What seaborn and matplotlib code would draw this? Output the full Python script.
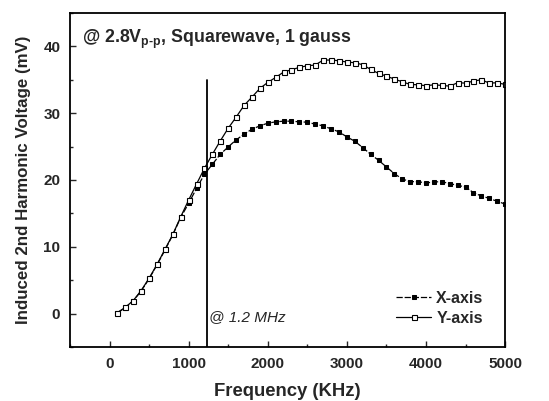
import numpy as np
import pandas as pd
import seaborn as sns
import matplotlib
matplotlib.use('Agg')
import matplotlib.pyplot as plt
from matplotlib.ticker import MultipleLocator

# frequency points (kHz), 100 kHz steps
freq = [100, 200, 300, 400, 500, 600, 700, 800, 900, 1000,
        1100, 1200, 1300, 1400, 1500, 1600, 1700, 1800, 1900, 2000,
        2100, 2200, 2300, 2400, 2500, 2600, 2700, 2800, 2900, 3000,
        3100, 3200, 3300, 3400, 3500, 3600, 3700, 3800, 3900, 4000,
        4100, 4200, 4300, 4400, 4500, 4600, 4700, 4800, 4900, 5000]

x_axis = [0.1, 0.9, 1.9, 3.4, 5.2, 7.3, 9.5, 11.8, 14.4, 16.5,
          18.75, 20.85, 22.35, 23.85, 24.95, 26.0, 26.85, 27.6, 28.1, 28.5,
          28.7, 28.8, 28.8, 28.7, 28.65, 28.35, 28.1, 27.65, 27.2, 26.45,
          25.8, 24.85, 23.85, 22.95, 21.95, 20.95, 20.15, 19.75, 19.75, 19.55,
          19.7, 19.75, 19.45, 19.2, 18.95, 18.1, 17.6, 17.25, 16.8, 16.4]

y_axis = [0.15, 0.95, 1.95, 3.45, 5.3, 7.35, 9.6, 11.85, 14.5, 17.0,
          19.4, 21.75, 23.85, 25.85, 27.75, 29.4, 31.15, 32.4, 33.7, 34.6,
          35.35, 36.15, 36.5, 36.85, 37.1, 37.2, 37.95, 37.95, 37.85, 37.65,
          37.55, 37.25, 36.55, 35.95, 35.55, 35.1, 34.7, 34.3, 34.25, 34.1,
          34.25, 34.15, 34.05, 34.55, 34.5, 34.8, 35.0, 34.5, 34.55, 34.3]

marker_freq = 1230   # vertical marker line
marker_top = 35

df = pd.DataFrame({'freq': freq, 'X-axis': x_axis, 'Y-axis': y_axis})

sns.set_style('ticks')
plt.rcParams['font.family'] = ['Liberation Sans', 'DejaVu Sans']
plt.rcParams['mathtext.fontset'] = 'custom'
plt.rcParams['mathtext.rm'] = 'Liberation Sans:bold'
plt.rcParams['xtick.direction'] = 'in'
plt.rcParams['ytick.direction'] = 'in'

fig = plt.figure(figsize=(5.49, 4.01), dpi=100)
ax = fig.add_axes([0.1275, 0.1347, 0.7925, 0.833])

sns.lineplot(data=df, x='freq', y='X-axis', ax=ax, color='black', lw=0.9,
             linestyle=(0, (5, 1.5)), marker='s', markersize=3.2,
             markerfacecolor='black', markeredgecolor='black', label='X-axis')
sns.lineplot(data=df, x='freq', y='Y-axis', ax=ax, color='black', lw=0.9,
             marker='s', markersize=3.6, markerfacecolor='white',
             markeredgecolor='black', markeredgewidth=0.8, label='Y-axis')

ax.plot([marker_freq, marker_freq], [-5, marker_top], color='black', lw=1.3)

ax.set_xlim(-500, 5000)
ax.set_ylim(-5, 45)
ax.xaxis.set_major_locator(MultipleLocator(1000))
ax.xaxis.set_minor_locator(MultipleLocator(500))
ax.yaxis.set_major_locator(MultipleLocator(10))
ax.yaxis.set_minor_locator(MultipleLocator(5))
ax.tick_params(which='major', length=4, width=1, labelsize=11, pad=7)
ax.tick_params(which='minor', length=2, width=1)
for lab in ax.get_xticklabels() + ax.get_yticklabels():
    lab.set_fontweight('bold')
for sp in ax.spines.values():
    sp.set_linewidth(1.3)
    sp.set_color('black')

ax.set_xlabel('Frequency (KHz)', fontsize=13.3, fontweight='bold', labelpad=9)
ax.set_ylabel('Induced 2nd Harmonic Voltage (mV)', fontsize=12.2,
              fontweight='bold', labelpad=9)

ax.text(0.028, 0.955, r'@ 2.8V$_{\rm p\text{-}p}$, Squarewave, 1 gauss',
        transform=ax.transAxes, fontsize=12.8, fontweight='bold',
        ha='left', va='top')
ax.text(marker_freq + 30, -0.5, '@ 1.2 MHz', fontsize=11, style='italic',
        ha='left', va='center')

leg = ax.legend(loc='lower right', bbox_to_anchor=(0.965, 0.045), frameon=False,
                fontsize=11.5, handlelength=2.2, handletextpad=0.3,
                labelspacing=0.3, borderaxespad=0)
for t in leg.get_texts():
    t.set_fontweight('bold')

fig.savefig('out.png', dpi=100)
